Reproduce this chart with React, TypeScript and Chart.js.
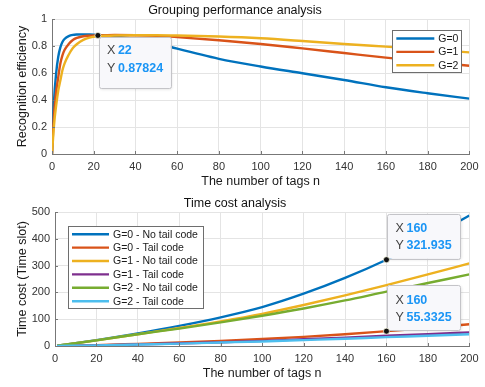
import React, { useEffect, useRef } from 'react';
import { Chart, registerables } from 'chart.js';

Chart.register(...registerables);

const FONT = "'Liberation Sans', Arial, Helvetica, sans-serif";

// ---------- Top chart: recognition efficiency ----------
const effN = [0, 1, 2, 3, 4, 5, 6, 8, 10, 12, 15, 18, 22, 26, 30, 40, 50, 60, 80, 100, 120, 140, 160, 180, 200];
const effG0 = [0, 0.40, 0.60, 0.72, 0.79, 0.83, 0.852, 0.873, 0.882, 0.885, 0.886, 0.885, 0.882, 0.877, 0.871, 0.852, 0.822, 0.78, 0.705, 0.648, 0.598, 0.548, 0.494, 0.45, 0.41];
const effG1 = [0, 0.30, 0.46, 0.57, 0.67, 0.73, 0.77, 0.815, 0.845, 0.86, 0.872, 0.876, 0.87824, 0.88, 0.881, 0.88, 0.875, 0.866, 0.843, 0.815, 0.782, 0.748, 0.714, 0.684, 0.654];
const effG2 = [0, 0.22, 0.36, 0.47, 0.545, 0.62, 0.67, 0.735, 0.785, 0.815, 0.845, 0.862, 0.872, 0.876, 0.878, 0.88, 0.88, 0.878, 0.87, 0.857, 0.837, 0.815, 0.795, 0.775, 0.753];
const effLabels = ['G=0', 'G=1', 'G=2'];
const effTitle = 'Grouping performance analysis';
const effXTitle = 'The number of tags n';
const effYTitle = 'Recognition efficiency';
const effTip = { series: 1, n: 22 };

// ---------- Bottom chart: time cost ----------
const costN = [1, 20, 40, 60, 80, 100, 120, 140, 160, 180, 200];
const costG0No = [1, 22, 47, 75, 107, 145, 195, 254, 321.935, 400, 487];
const costG0Tail = [0.3, 3, 8, 13, 19, 26, 34, 44, 55.3325, 67, 81];
const costG1No = [1, 21, 44, 67, 92, 120, 153, 189, 227, 267, 308];
const costG1Tail = [0.2, 2.5, 6, 10, 14, 19, 25, 31, 38, 44, 51];
const costG2No = [1, 21, 44, 65, 88, 113, 140, 170, 203, 235, 267];
const costG2Tail = [0.2, 2.2, 5.5, 9, 13, 17, 22, 27, 33, 38, 44];
const costLabels = ['G=0 - No tail code', 'G=0 - Tail code', 'G=1 - No tail code', 'G=1 - Tail code', 'G=2 - No tail code', 'G=2 - Tail code'];
const costTitle = 'Time cost analysis';
const costXTitle = 'The number of tags n';
const costYTitle = 'Time cost (Time slot)';
const costTips = [{ series: 0, n: 160 }, { series: 1, n: 160 }];

const COLORS = ['#0072BD', '#D95319', '#EDB120', '#7E2F8E', '#77AC30', '#4DBEEE'];

const fmt = (v: number) => String(Number(v.toPrecision(6)));

const matlabPlugin = {
  id: 'matlab',
  afterDatasetsDraw(chart: any, _args: any, opts: any) {
    const { ctx, chartArea: ca, scales } = chart;
    const xs = scales.x;
    const ys = scales.y;
    ctx.save();
    // inward tick marks
    ctx.strokeStyle = '#777';
    ctx.lineWidth = 1;
    ctx.beginPath();
    xs.ticks.forEach((t: any) => {
      const px = Math.round(xs.getPixelForValue(t.value)) + 0.5;
      ctx.moveTo(px, ca.bottom);
      ctx.lineTo(px, ca.bottom - 3);
    });
    ys.ticks.forEach((t: any) => {
      const py = Math.round(ys.getPixelForValue(t.value)) + 0.5;
      ctx.moveTo(ca.left, py);
      ctx.lineTo(ca.left + 3, py);
    });
    ctx.stroke();

    // legend
    const lg = opts.legend;
    if (lg) {
      const bx = lg.anchor === 'right' ? ca.right - lg.offX - lg.w : ca.left + lg.offX;
      const by = ca.top + lg.offY;
      ctx.fillStyle = '#fff';
      ctx.fillRect(bx, by, lg.w, lg.h);
      ctx.strokeStyle = '#6e6e6e';
      ctx.lineWidth = 1;
      ctx.strokeRect(Math.round(bx) + 0.5, Math.round(by) + 0.5, lg.w, lg.h);
      ctx.font = `10.5px ${FONT}`;
      ctx.textBaseline = 'middle';
      ctx.textAlign = 'left';
      chart.data.datasets.forEach((ds: any, i: number) => {
        const yy = by + lg.first + i * lg.step;
        ctx.strokeStyle = ds.borderColor;
        ctx.lineWidth = 2.4;
        ctx.beginPath();
        ctx.moveTo(bx + 4, yy);
        ctx.lineTo(bx + lg.lineLen + 4, yy);
        ctx.stroke();
        ctx.fillStyle = '#1a1a1a';
        ctx.fillText(ds.label, bx + lg.lineLen + 8, yy + 0.5);
      });
    }

    // data tips
    (opts.tips || []).forEach((tip: any) => {
      const ds = chart.data.datasets[tip.series];
      const pt = ds.data.find((p: any) => p.x === tip.n);
      if (!pt) return;
      const px = xs.getPixelForValue(pt.x);
      const py = ys.getPixelForValue(pt.y);
      const bx = px + tip.dx;
      const by = py + tip.dy;
      ctx.shadowColor = 'rgba(0,0,0,0.12)';
      ctx.shadowBlur = 3;
      ctx.shadowOffsetX = 1;
      ctx.shadowOffsetY = 1;
      ctx.fillStyle = '#f8f8fb';
      ctx.beginPath();
      ctx.roundRect(bx, by, tip.w, tip.h, 2);
      ctx.fill();
      ctx.shadowColor = 'transparent';
      ctx.strokeStyle = '#c4c4c8';
      ctx.lineWidth = 1;
      ctx.beginPath();
      ctx.roundRect(Math.round(bx) + 0.5, Math.round(by) + 0.5, tip.w, tip.h, 2);
      ctx.stroke();
      ctx.textBaseline = 'middle';
      ctx.textAlign = 'left';
      const rows = [['X', fmt(pt.x)], ['Y', fmt(pt.y)]];
      rows.forEach((r, k) => {
        const yy = by + tip.rows[k];
        ctx.font = `12.5px ${FONT}`;
        ctx.fillStyle = '#444';
        ctx.fillText(r[0], bx + 8, yy);
        ctx.font = `bold 12.5px ${FONT}`;
        ctx.fillStyle = '#1a95f5';
        ctx.fillText(r[1], bx + 19, yy);
      });
      // marker
      ctx.beginPath();
      ctx.arc(px, py, 3, 0, Math.PI * 2);
      ctx.fillStyle = '#111';
      ctx.fill();
      ctx.strokeStyle = 'rgba(255,255,230,0.9)';
      ctx.lineWidth = 0.8;
      ctx.stroke();
    });
    ctx.restore();
  },
};

function makeConfig(p: any) {
  const tickFont = { size: 11, family: FONT };
  const labFont = { size: 12.5, family: FONT };
  return {
    type: 'line',
    data: {
      datasets: p.series.map((vals: number[], i: number) => ({
        label: p.labels[i],
        data: p.xs.map((n: number, j: number) => ({ x: n, y: vals[j] })),
        borderColor: COLORS[i],
        backgroundColor: COLORS[i],
        borderWidth: 2.4,
        pointRadius: 0,
        cubicInterpolationMode: 'monotone',
        fill: false,
        order: p.series.length - i,
      })),
    },
    options: {
      animation: false,
      responsive: false,
      devicePixelRatio: 1,
      layout: { padding: { left: 0, right: 15, top: 0, bottom: 0 } },
      plugins: {
        legend: { display: false },
        tooltip: { enabled: false },
        title: {
          display: true,
          text: p.title,
          color: '#111',
          font: { size: 12.5, weight: 'normal', family: FONT },
          padding: p.titlePad,
        },
        matlab: { legend: p.legend, tips: p.tips },
      },
      scales: {
        x: {
          type: 'linear',
          min: 0,
          max: 200,
          ticks: { stepSize: 20, padding: 6.5, color: '#333', font: tickFont, maxRotation: 0, autoSkip: false },
          grid: { color: '#e4e4e4', drawTicks: false },
          border: { color: '#777' },
          title: { display: true, text: p.xTitle, color: '#1a1a1a', font: labFont, padding: { top: 0, bottom: p.xTitlePadBottom } },
          afterFit: (s: any) => { s.height = p.xAxisH; },
        },
        y: {
          type: 'linear',
          min: p.yMin,
          max: p.yMax,
          ticks: { stepSize: p.yStep, padding: 5, color: '#333', font: tickFont, callback: (v: number) => String(Math.round(v * 10) / 10) },
          grid: { color: '#e4e4e4', drawTicks: false },
          border: { color: '#777' },
          title: { display: true, text: p.yTitle, color: '#1a1a1a', font: labFont, padding: { top: 15, bottom: 0 } },
          afterFit: (s: any) => { s.width = p.yAxisW; },
        },
      },
    },
    plugins: [matlabPlugin],
  };
}

export default function App() {
  const topRef = useRef<HTMLCanvasElement>(null);
  const botRef = useRef<HTMLCanvasElement>(null);

  useEffect(() => {
    Chart.defaults.font.family = FONT;
    const top = new Chart(topRef.current as any, makeConfig({
      xs: effN,
      series: [effG0, effG1, effG2],
      labels: effLabels,
      title: effTitle,
      xTitle: effXTitle,
      yTitle: effYTitle,
      titlePad: { top: 3, bottom: 1 },
      xTitlePadBottom: 0.5,
      xAxisH: 36,
      yAxisW: 52,
      yMin: 0, yMax: 1, yStep: 0.2,
      legend: { anchor: 'right', offX: 8, offY: 11, w: 69, h: 42, first: 8.5, step: 13.4, lineLen: 38 },
      tips: [{ ...effTip, dx: 1, dy: 2, w: 72, h: 51, rows: [13, 31] }],
    }) as any);
    const bot = new Chart(botRef.current as any, makeConfig({
      xs: costN,
      series: [costG0No, costG0Tail, costG1No, costG1Tail, costG2No, costG2Tail],
      labels: costLabels,
      title: costTitle,
      xTitle: costXTitle,
      yTitle: costYTitle,
      titlePad: { top: 6, bottom: 1 },
      xTitlePadBottom: 5.5,
      xAxisH: 41,
      yAxisW: 55,
      yMin: 0, yMax: 500, yStep: 100,
      legend: { anchor: 'left', offX: 13, offY: 14, w: 135, h: 82, first: 8.2, step: 13.4, lineLen: 37 },
      tips: costTips.map((t) => ({ ...t, dx: 1, dy: -46, w: 73, h: 45, rows: [15, 32] })),
    }) as any);
    return () => {
      top.destroy();
      bot.destroy();
    };
  }, []);

  return (
    <div style={{ position: 'absolute', left: 0, top: 0, width: 485, height: 387, background: '#fff' }}>
      <canvas ref={topRef} width={485} height={190} style={{ display: 'block', width: 485, height: 190 }} />
      <canvas ref={botRef} width={485} height={197} style={{ display: 'block', width: 485, height: 197 }} />
    </div>
  );
}
